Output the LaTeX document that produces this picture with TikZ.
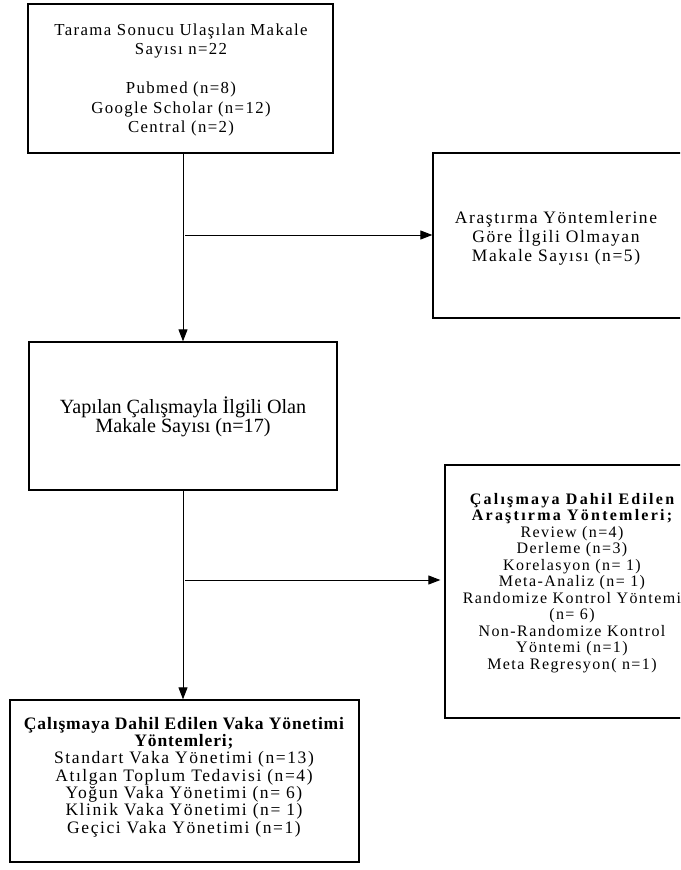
\documentclass[tikz,border=0pt]{standalone}
\usepackage{fontspec}
\setmainfont{Liberation Serif}
\newfontfamily\spc[LetterSpace=8]{Liberation Serif}
\newfontfamily\spcn[LetterSpace=9]{Liberation Serif}
\newfontfamily\spcb[LetterSpace=14]{Liberation Serif}
\newfontfamily\spcbb[LetterSpace=5]{Liberation Serif}
\usetikzlibrary{arrows.meta}
\begin{document}
\begin{tikzpicture}[x=1pt,y=-1pt,
  box/.style={draw=black,line width=1.3pt,rectangle,inner sep=0pt},
  txt/.style={align=center,inner sep=0pt},
  conn/.style={line width=1pt,-{Triangle[length=12pt,width=9pt]}}]
\clip (0,0) rectangle (680,870);
\fill[white] (0,0) rectangle (680,870);
% boxes
\node[box,minimum width=305pt,minimum height=149pt] (b1) at (180.5,78.5) {};
\node[box,minimum width=308pt,minimum height=148pt] (b2) at (183,416) {};
\node[box,minimum width=249pt,minimum height=165pt] (b3) at (557.5,235.5) {};
\node[box,minimum width=255pt,minimum height=253pt] (b4) at (572.5,591.5) {};
\node[box,minimum width=349pt,minimum height=162pt] (b5) at (184.5,781) {};
% texts
\node[txt,font={\spc\fontsize{16.8}{19.5}\selectfont}] (t1) at (181,80)
 {Tarama Sonucu Ulaşılan Makale\\Sayısı n=22\\[19.5pt]Pubmed (n=8)\\Google Scholar (n=12)\\Central (n=2)};
\node[txt,font={\fontsize{20.2}{19.5}\selectfont}] (t2) at (183,417)
 {Yapılan Çalışmayla İlgili Olan\\Makale Sayısı (n=17)};
\node[txt,font={\spcn\fontsize{17.5}{19}\selectfont}] (t3) at (556,238)
 {Araştırma Yöntemlerine\\Göre İlgili Olmayan\\Makale Sayısı (n=5)};
\node[txt,font={\spcn\fontsize{16}{16.5}\selectfont}] (t4) at (572,583)
 {{\spcb\bfseries Çalışmaya Dahil Edilen}\\{\spcb\bfseries Araştırma Yöntemleri;}\\Review (n=4)\\Derleme (n=3)\\Korelasyon (n= 1)\\Meta-Analiz (n= 1)\\Randomize Kontrol Yöntemi\\(n= 6)\\Non-Randomize Kontrol\\Yöntemi (n=1)\\Meta Regresyon( n=1)};
\node[txt,font={\spcn\fontsize{17.5}{17.3}\selectfont}] (t5) at (184,777)
 {{\spcbb\bfseries Çalışmaya Dahil Edilen Vaka Yönetimi}\\{\spcbb\bfseries Yöntemleri;}\\Standart Vaka Yönetimi (n=13)\\Atılgan Toplum Tedavisi (n=4)\\Yoğun Vaka Yönetimi (n= 6)\\Klinik Vaka Yönetimi (n= 1)\\Geçici Vaka Yönetimi (n=1)};
% connectors
\draw[conn] (b1.south -| b2.north) -- (b2.north);
\draw[conn] (b2.south) -- (b5.north -| b2.south);
\coordinate (j1) at (185,235);
\coordinate (j2) at (185,580);
\draw[conn] (j1) -- (j1 -| b3.west);
\draw[conn,shorten >=4pt] (j2) -- (j2 -| b4.west);
\end{tikzpicture}
\end{document}
